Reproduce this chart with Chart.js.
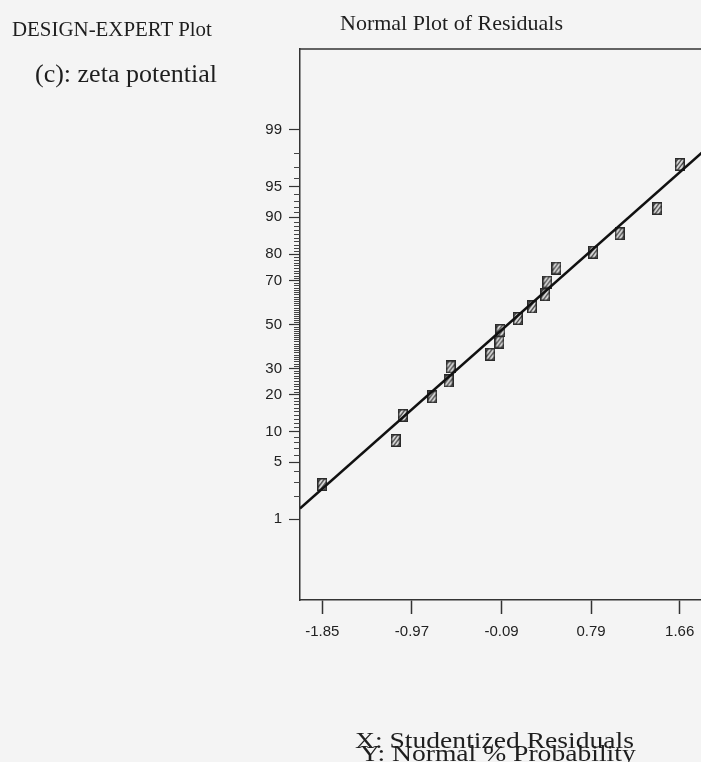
<!DOCTYPE html>
<html><head><meta charset="utf-8">
<script src="https://cdn.jsdelivr.net/npm/chart.js@4/dist/chart.umd.min.js"></script>
<style>
html,body{margin:0;padding:0;background:#f4f4f4;overflow:hidden;width:701px;height:762px;}
#wrap{position:absolute;left:0;top:0;width:712px;height:762px;}
.t{position:absolute;font-family:'Liberation Serif','Times New Roman',serif;color:#1e1e1e;white-space:nowrap;line-height:1;transform-origin:0 0;}
</style></head><body>
<div id="wrap"><canvas id="c" width="712" height="762"></canvas></div>
<div class="t" style="left:12px;top:19px;font-size:20px;transform:scaleX(1.045)">DESIGN-EXPERT Plot</div>
<div class="t" style="left:35px;top:61px;font-size:26px">(c): zeta potential</div>
<div class="t" style="left:340px;top:12px;font-size:22px">Normal Plot of Residuals</div>
<div class="t" style="left:355px;top:729px;font-size:23px;transform:scaleX(1.2)">X: Studentized Residuals</div>
<div class="t" style="left:360px;top:742px;font-size:23px;transform:scaleX(1.2)">Y: Normal % Probability</div>
<script>
// ---- data ----
const residualsX = [-1.85, -1.13, -1.06, -0.77, -0.61, -0.59, -0.20, -0.11, -0.10, 0.07, 0.21, 0.34, 0.36, 0.45, 0.81, 1.07, 1.44, 1.66];
const normalProb = [2.8, 8.3, 13.9, 19.4, 25.0, 30.6, 36.1, 41.7, 47.2, 52.8, 58.3, 63.9, 69.4, 75.0, 80.6, 86.1, 91.7, 97.2];
const yTickLabels = [1, 5, 10, 20, 30, 50, 70, 80, 90, 95, 99];
const xTickLabels = [-1.85, -0.97, -0.09, 0.79, 1.66];
const fitLineX = [-2.07, 1.88];
const fitLineProb = [1.4, 98.0];

// inverse normal CDF (Acklam)
function probToZ(pct){
  const p = pct/100;
  const a=[-3.969683028665376e+01,2.209460984245205e+02,-2.759285104469687e+02,1.383577518672690e+02,-3.066479806614716e+01,2.506628277459239e+00];
  const b=[-5.447609879822406e+01,1.615858368580409e+02,-1.556989798598866e+02,6.680131188771972e+01,-1.328068155288572e+01];
  const c=[-7.784894002430293e-03,-3.223964580411365e-01,-2.400758277161838e+00,-2.549732539343734e+00,4.374664141464968e+00,2.938163982698783e+00];
  const d=[7.784695709041462e-03,3.224671290700398e-01,2.445134137142996e+00,3.754408661907416e+00];
  const pl=0.02425;
  let q,r;
  if(p<pl){q=Math.sqrt(-2*Math.log(p));return (((((c[0]*q+c[1])*q+c[2])*q+c[3])*q+c[4])*q+c[5])/((((d[0]*q+d[1])*q+d[2])*q+d[3])*q+1);}
  if(p>1-pl){q=Math.sqrt(-2*Math.log(1-p));return -(((((c[0]*q+c[1])*q+c[2])*q+c[3])*q+c[4])*q+c[5])/((((d[0]*q+d[1])*q+d[2])*q+d[3])*q+1);}
  q=p-0.5;r=q*q;
  return (((((a[0]*r+a[1])*r+a[2])*r+a[3])*r+a[4])*r+a[5])*q/(((((b[0]*r+b[1])*r+b[2])*r+b[3])*r+b[4])*r+1);
}

function makeMarker(){
  const cv=document.createElement('canvas'); cv.width=10; cv.height=13;
  const g=cv.getContext('2d');
  g.fillStyle='#e2e2e2'; g.fillRect(0,0,10,13);
  g.strokeStyle='#2a2a2a'; g.lineWidth=1.2;
  for(let k=-14;k<24;k+=4){g.beginPath();g.moveTo(k,13);g.lineTo(k+10,0);g.stroke();}
  g.lineWidth=1.5; g.strokeRect(0.75,0.75,8.5,11.5);
  return cv;
}

const minorTicks = {
  id:'minorTicks',
  afterDraw(chart){
    const {ctx, chartArea:a, scales:{y}} = chart;
    ctx.save();
    ctx.strokeStyle='#444'; ctx.lineWidth=1;
    for(let p=2;p<=98;p++){
      if(yTickLabels.includes(p)) continue;
      const py=Math.round(y.getPixelForValue(probToZ(p)))+0.5;
      ctx.beginPath(); ctx.moveTo(a.left-6,py); ctx.lineTo(a.left,py); ctx.stroke();
    }
    ctx.strokeStyle='#333'; ctx.lineWidth=1.5;
    ctx.beginPath(); ctx.moveTo(a.left,a.top); ctx.lineTo(a.right+10,a.top); ctx.stroke();
    ctx.restore();
  }
};

const tickFont = {family:"'Liberation Sans', Arial, sans-serif", size:15};

new Chart(document.getElementById('c'), {
  type:'scatter',
  data:{
    datasets:[
      {
        data: fitLineX.map((x,i)=>({x, y:probToZ(fitLineProb[i])})),
        showLine:true, borderColor:'#111', borderWidth:2.5, pointRadius:0, order:0
      },
      {
        data: residualsX.map((x,i)=>({x, y:probToZ(normalProb[i])})),
        pointStyle: makeMarker(), pointRadius:6, order:1
      }
    ]
  },
  options:{
    responsive:false, animation:false, devicePixelRatio:1,
    layout:{padding:{top:49,right:10,left:0,bottom:0}},
    plugins:{legend:{display:false}, tooltip:{enabled:false}},
    scales:{
      x:{
        type:'linear', min:-2.069, max:1.879,
        afterBuildTicks(s){ s.ticks = xTickLabels.map(v=>({value:v})); },
        afterFit(s){ s.height = 162; },
        ticks:{autoSkip:false, maxRotation:0, padding:9, color:'#222', font:tickFont,
          callback:(v,i)=>xTickLabels[i].toFixed(2)},
        grid:{drawOnChartArea:false, drawTicks:true, tickLength:14, tickColor:'#333', tickWidth:1.5},
        border:{display:true, color:'#333', width:1.5}
      },
      y:{
        type:'linear', min:-3.29, max:3.29,
        afterBuildTicks(s){ s.ticks = yTickLabels.map(p=>({value:probToZ(p)})); },
        afterFit(s){ s.width = 300; },
        ticks:{autoSkip:false, padding:7, color:'#222', font:tickFont,
          callback:(v,i)=>String(yTickLabels[i])},
        grid:{drawOnChartArea:false, drawTicks:true, tickLength:11, tickColor:'#333', tickWidth:1.2},
        border:{display:true, color:'#333', width:1.5}
      }
    }
  },
  plugins:[minorTicks]
});
</script>
</body></html>
